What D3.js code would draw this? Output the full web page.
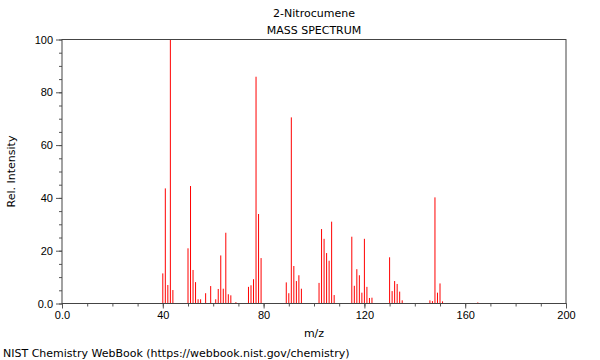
<!DOCTYPE html>
<html>
<head>
<meta charset="utf-8">
<script src="https://cdn.jsdelivr.net/npm/d3@7"></script>
<style>
  body { margin: 0; background: #fff; }
  svg { display: block; font-family: "DejaVu Sans", sans-serif; }
</style>
</head>
<body>
<svg id="chart" width="600" height="360"></svg>
<script>
(function(d3) {
	'use strict';

	// peaks
	var mzValues = [40, 41, 42, 43, 44, 50, 51, 52, 53, 54, 55, 57, 59, 61, 62, 63, 64, 65, 66, 67, 69,
		74, 75, 76, 77, 78, 79, 89, 90, 91, 92, 93, 94, 95, 102, 103, 104, 105, 106, 107, 108,
		115, 116, 117, 118, 119, 120, 121, 122, 123, 130, 131, 132, 133, 134, 135,
		146, 147, 148, 149, 150, 151, 165];
	var intensities = [11.4, 43.6, 7.0, 100, 5.1, 20.9, 44.5, 12.7, 8.1, 1.6, 1.6, 3.9, 6.6, 1.6, 5.5, 18.2, 5.6, 26.8, 3.5, 3.1, 0.5,
		6.3, 6.9, 9.2, 85.9, 33.9, 17.2, 8.0, 3.9, 70.5, 14.2, 8.5, 10.7, 5.6, 7.8, 28.2, 24.5, 19.1, 16.2, 31.0, 3.2,
		25.3, 6.7, 13.0, 10.7, 4.1, 24.5, 6.3, 2.1, 2.2, 17.5, 4.7, 8.5, 7.4, 4.5, 1.2,
		1.2, 0.9, 40.2, 4.1, 7.6, 0.8, 0.4];
	var xTickLabels = [0, 40, 80, 120, 160, 200];
	var yTickLabels = [0, 20, 40, 60, 80, 100];

	var svg = d3.select('#chart');
	var left = 62, right = 566, top = 39.5, bottom = 303.5;

	var x = d3.scaleLinear().domain([0, 200]).range([left, right]);
	var y = d3.scaleLinear().domain([0, 100]).range([bottom, top]);

	var fmt = function(v) { return v === 0 ? '0.0' : String(v); };

	/** peaks */
	var peaks = mzValues.map(function(m, i) { return { mz: m, value: intensities[i] }; });
	svg.append('g').selectAll('line').data(peaks).enter().append('line')
		.attr('x1', function(p) { return x(p.mz); })
		.attr('x2', function(p) { return x(p.mz); })
		.attr('y1', y(0))
		.attr('y2', function(p) { return y(p.value); })
		.attr('stroke', '#ff0000')
		.attr('stroke-width', 1);

	/** axes */
	var xMinor = d3.axisBottom(x).tickValues(d3.range(0, 201, 10)).tickSize(3).tickFormat('');
	var xMajor = d3.axisBottom(x).tickValues(xTickLabels).tickSize(5).tickPadding(3).tickFormat(fmt);
	var yMinor = d3.axisLeft(y).tickValues(d3.range(0, 101, 5)).tickSize(3).tickFormat('');
	var yMajor = d3.axisLeft(y).tickValues(yTickLabels).tickSize(6).tickPadding(3).tickFormat(fmt);

	var styleAxis = function(g) {
		g.select('.domain').remove();
		g.selectAll('line').attr('stroke', '#555');
		g.selectAll('text').attr('fill', '#000').style('font-size', '11px');
	};

	svg.append('g').attr('transform', 'translate(0,' + bottom + ')').call(xMinor).call(styleAxis);
	svg.append('g').attr('transform', 'translate(0,' + bottom + ')').call(xMajor).call(styleAxis);
	svg.append('g').attr('transform', 'translate(' + left + ',0)').call(yMinor).call(styleAxis);
	svg.append('g').attr('transform', 'translate(' + left + ',0)').call(yMajor).call(styleAxis);

	/** frame */
	svg.append('rect')
		.attr('x', left).attr('y', top)
		.attr('width', right - left).attr('height', bottom - top)
		.attr('fill', 'none').attr('stroke', '#444').attr('stroke-width', 1);

	/** titles */
	var cx = (left + right) / 2;
	svg.append('text').attr('x', cx).attr('y', 17).attr('text-anchor', 'middle')
		.style('font-size', '11px').text('2-Nitrocumene');
	svg.append('text').attr('x', cx).attr('y', 34).attr('text-anchor', 'middle')
		.style('font-size', '11px').text('MASS SPECTRUM');
	svg.append('text').attr('x', cx).attr('y', 337).attr('text-anchor', 'middle')
		.style('font-size', '11px').text('m/z');
	svg.append('text').attr('transform', 'translate(15,' + ((top + bottom) / 2) + ') rotate(-90)')
		.attr('text-anchor', 'middle').style('font-size', '11px').text('Rel. Intensity');
	svg.append('text').attr('x', 3).attr('y', 357)
		.style('font-size', '11px').text('NIST Chemistry WebBook (https://webbook.nist.gov/chemistry)');
})(d3);
</script>
</body>
</html>
